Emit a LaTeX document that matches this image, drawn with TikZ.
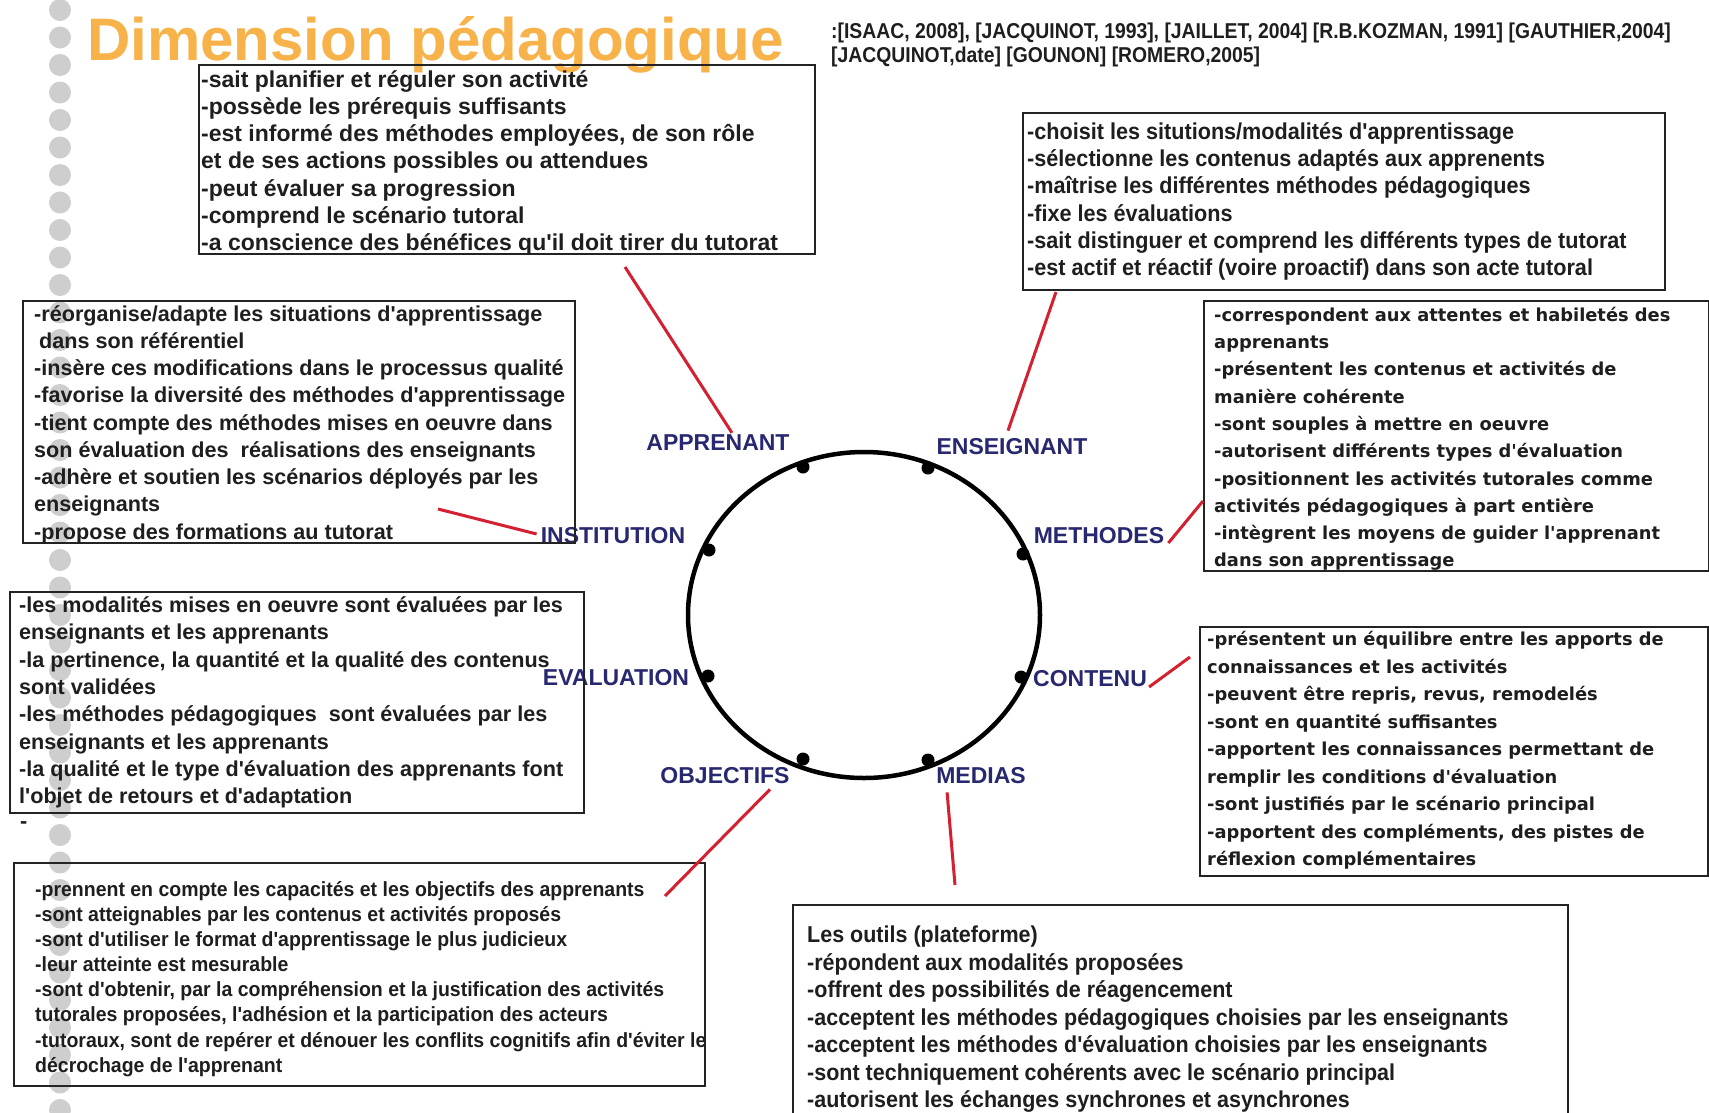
\documentclass[tikz,border=0pt]{standalone}
\usepackage{fontspec}
\setmainfont{Liberation Sans}
\newfontfamily\lsplain{Liberation Sans}
\newfontfamily\vfont{DejaVu Sans}
\newfontfamily\lsnarrowA[FakeStretch=0.94]{Liberation Sans}
\newfontfamily\lsnarrowB[FakeStretch=0.95]{Liberation Sans}
\newfontfamily\lsnarrowC[FakeStretch=0.935]{Liberation Sans}
\newfontfamily\refsfont[FakeStretch=0.9]{Liberation Sans}
\usetikzlibrary{shapes.geometric,calc}
\definecolor{titleorange}{RGB}{247,178,74}
\definecolor{navy}{RGB}{40,40,112}
\definecolor{redline}{RGB}{212,32,48}
\definecolor{dotgray}{RGB}{206,206,206}
\definecolor{txt}{RGB}{30,30,30}
\definecolor{boxline}{RGB}{35,35,35}
\tikzset{
  panel/.style={draw=boxline, line width=1.8pt, inner sep=0pt, anchor=north west},
  boxtext/.style={anchor=west, align=left, inner sep=0pt, text=txt},
  catlabel/.style={font=\bfseries\fontsize{23}{23}\selectfont, text=navy, inner sep=0pt},
  redconn/.style={draw=redline, line width=3pt},
  bead/.style={fill=dotgray},
  ringdot/.style={fill=black},
}
\begin{document}
\begin{tikzpicture}[x=1pt,y=-1pt]
\useasboundingbox (0,0) rectangle (1709,1112);
\fill[white] (0,0) rectangle (1709,1112);
% left column of grey beads
\foreach \k in {0,...,40} \fill[bead] (60,{10+27.5*\k}) circle (11);

% title and references
\node[anchor=base west, inner sep=0pt, font=\bfseries\fontsize{60}{60}\selectfont, text=titleorange] (title) at (87,60) {Dimension pédagogique};
\node[anchor=base west, inner sep=0pt, font=\refsfont\bfseries\fontsize{21.5}{24}\selectfont, text=txt] (refs1) at (831,38) {:[ISAAC, 2008], [JACQUINOT, 1993], [JAILLET, 2004] [R.B.KOZMAN, 1991] [GAUTHIER,2004]};
\node[anchor=base west, inner sep=0pt, font=\refsfont\bfseries\fontsize{21.5}{24}\selectfont, text=txt] (refs2) at (831,62) {[JACQUINOT,date] [GOUNON] [ROMERO,2005]};

% central ring
\node[draw, ellipse, line width=4.5pt, minimum width=352pt, minimum height=326pt, inner sep=0pt] (ring) at (864,615) {};
\foreach \p in {(803,467),(928,468),(709,550),(1023,554),(708,676),(1021,677),(803,759),(928,760)}
  \fill[ringdot] \p circle (6.5);

% category labels
\node[catlabel] (lApp) at (718,443) {APPRENANT};
\node[catlabel] (lEns) at (1012,447) {ENSEIGNANT};
\node[catlabel] (lIns) at (613,536) {INSTITUTION};
\node[catlabel] (lMet) at (1099,536) {METHODES};
\node[catlabel] (lEva) at (616,678) {EVALUATION};
\node[catlabel] (lCon) at (1090,679) {CONTENU};
\node[catlabel] (lObj) at (725,776) {OBJECTIFS};
\node[catlabel] (lMed) at (981,776) {MEDIAS};

% boxes
\node[panel, minimum width=616pt, minimum height=189pt] (bApp) at (198,64) {};
\node[boxtext, font=\lsplain\bfseries\fontsize{23}{27.3}\selectfont] (tApp) at ($(bApp.west)+(3,3.5)$) {-sait planifier et réguler son activité\\-possède les prérequis suffisants\\-est informé des méthodes employées, de son rôle\\et de ses actions possibles ou attendues\\-peut évaluer sa progression\\-comprend le scénario tutoral\\-a conscience des bénéfices qu'il doit tirer du tutorat};

\node[panel, minimum width=642pt, minimum height=177pt] (bEns) at (1022,112) {};
\node[boxtext, font=\lsnarrowA\bfseries\fontsize{23}{27.3}\selectfont] (tEns) at ($(bEns.west)+(5,0)$) {-choisit les situtions/modalités d'apprentissage\\-sélectionne les contenus adaptés aux apprenents\\-maîtrise les différentes méthodes pédagogiques\\-fixe les évaluations\\-sait distinguer et comprend les différents types de tutorat\\-est actif et réactif (voire proactif) dans son acte tutoral};

\node[panel, minimum width=552pt, minimum height=242pt] (bIns) at (22,300) {};
\node[boxtext, font=\lsplain\bfseries\fontsize{21.6}{27.25}\selectfont] (tIns) at ($(bIns.west)+(12,2.5)$) {-réorganise/adapte les situations d'apprentissage\\\hspace{5pt}dans son référentiel\\-insère ces modifications dans le processus qualité\\-favorise la diversité des méthodes d'apprentissage\\-tient compte des méthodes mises en oeuvre dans\\son évaluation des\ \ réalisations des enseignants\\-adhère et soutien les scénarios déployés par les\\enseignants\\-propose des formations au tutorat};

\node[panel, minimum width=505pt, minimum height=270pt] (bMet) at (1203,300) {};
\node[boxtext, font=\vfont\bfseries\fontsize{17.85}{27.3}\selectfont] (tMet) at ($(bMet.west)+(11,3)$) {-correspondent aux attentes et habiletés des\\apprenants\\-présentent les contenus et activités de\\manière cohérente\\-sont souples à mettre en oeuvre\\-autorisent différents types d'évaluation\\-positionnent les activités tutorales comme\\activités pédagogiques à part entière\\-intègrent les moyens de guider l'apprenant\\dans son apprentissage};

\node[panel, minimum width=574pt, minimum height=221pt] (bEva) at (9,591) {};
\node[boxtext, font=\lsplain\bfseries\fontsize{21.6}{27.3}\selectfont] (tEva) at ($(bEva.west)+(10,0)$) {-les modalités mises en oeuvre sont évaluées par les\\enseignants et les apprenants\\-la pertinence, la quantité et la qualité des contenus\\sont validées\\-les méthodes pédagogiques\ \ sont évaluées par les\\enseignants et les apprenants\\-la qualité et le type d'évaluation des apprenants font\\l'objet de retours et d'adaptation};
\node[anchor=west, inner sep=0pt, font=\lsplain\bfseries\fontsize{21.6}{27.3}\selectfont, text=txt] (evaDash) at (20,825) {-};

\node[panel, minimum width=508pt, minimum height=249pt] (bCon) at (1199,626) {};
\node[boxtext, font=\vfont\bfseries\fontsize{17.85}{27.5}\selectfont] (tCon) at ($(bCon.west)+(8,-1)$) {-présentent un équilibre entre les apports de\\connaissances et les activités\\-peuvent être repris, revus, remodelés\\-sont en quantité suffisantes\\-apportent les connaissances permettant de\\remplir les conditions d'évaluation\\-sont justifiés par le scénario principal\\-apportent des compléments, des pistes de\\réflexion complémentaires};

\node[panel, minimum width=691pt, minimum height=223pt] (bObj) at (13,862) {};
\node[boxtext, font=\lsnarrowB\bfseries\fontsize{20.5}{25.1}\selectfont] (tObj) at ($(bObj.west)+(22,4.5)$) {-prennent en compte les capacités et les objectifs des apprenants\\-sont atteignables par les contenus et activités proposés\\-sont d'utiliser le format d'apprentissage le plus judicieux\\-leur atteinte est mesurable\\-sont d'obtenir, par la compréhension et la justification des activités\\tutorales proposées, l'adhésion et la participation des acteurs\\-tutoraux, sont de repérer et dénouer les conflits cognitifs afin d'éviter le\\décrochage de l'apprenant};

\node[panel, minimum width=775pt, minimum height=222pt] (bMed) at (792,904) {};
\node[boxtext, font=\lsnarrowC\bfseries\fontsize{23}{27.5}\selectfont] (tMed) at ($(bMed.west)+(15,3.5)$) {Les outils (plateforme)\\-répondent aux modalités proposées\\-offrent des possibilités de réagencement\\-acceptent les méthodes pédagogiques choisies par les enseignants\\-acceptent les méthodes d'évaluation choisies par les enseignants\\-sont techniquement cohérents avec le scénario principal\\-autorisent les échanges synchrones et asynchrones};

% red connectors
\coordinate (eApp) at (625,267);
\coordinate (eEns) at (1056,292);
\coordinate (eIns) at (438,509);
\coordinate (eMet) at (1203,501);
\coordinate (eCon) at (1190,657);
\coordinate (eObj) at (665,896);
\coordinate (eMed) at (955,885);
\draw[redconn] ($(lApp.north)+(14,-2)$) -- (eApp);
\draw[redconn] ($(lEns.north)+(-4,-8)$) -- (eEns);
\draw[redconn] ($(lIns.west)+(-4,-2)$) -- (eIns);
\draw[redconn] ($(lMet.east)+(4,7)$) -- (eMet);
\draw[redconn] ($(lCon.east)+(2,8)$) -- (eCon);
\draw[redconn] ($(lObj.south)+(45,5)$) -- (eObj);
\draw[redconn] ($(lMed.south west)+(11,8)$) -- (eMed);
\end{tikzpicture}
\end{document}
